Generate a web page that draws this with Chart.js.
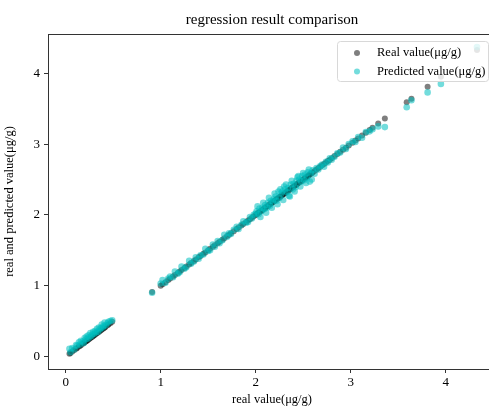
<!DOCTYPE html>
<html>
<head>
<meta charset="utf-8">
<script src="https://cdn.jsdelivr.net/npm/chart.js@4/dist/chart.umd.min.js"></script>
<style>
  html, body { margin: 0; padding: 0; background: #fff; overflow: hidden; }
  #wrap { width: 500px; height: 408px; }
</style>
</head>
<body>
<div id="wrap"><canvas id="chart"></canvas></div>
<script>
const titleText = 'regression result comparison';
const xTicks = [0, 1, 2, 3, 4];
const yTicks = [0, 1, 2, 3, 4];

// measured values (x of both series, y of the "real" series)
const realValues = [
  0.04, 0.05, 0.07, 0.09, 0.11, 0.12, 0.14, 0.15, 0.16, 0.18, 0.19, 0.2, 0.21, 0.22, 0.23, 0.24, 0.25, 0.26, 0.27,
  0.28, 0.29, 0.3, 0.31, 0.32, 0.33, 0.34, 0.35, 0.36, 0.37, 0.38, 0.39, 0.4, 0.41, 0.42, 0.44, 0.45, 0.47, 0.49,
  0.91,
  1.0, 1.02, 1.05, 1.08, 1.1, 1.13, 1.15, 1.18, 1.2, 1.22, 1.25, 1.27, 1.3, 1.32, 1.35, 1.37, 1.4, 1.42, 1.45, 1.47,
  1.5, 1.52, 1.55, 1.57, 1.6, 1.62, 1.65, 1.67, 1.7, 1.72, 1.74, 1.77, 1.8, 1.82, 1.85, 1.87, 1.9, 1.92, 1.94, 1.96, 1.98,
  2.0, 2.01, 2.03, 2.04, 2.06, 2.07, 2.09, 2.1, 2.12, 2.13, 2.15, 2.16, 2.18, 2.19, 2.21, 2.22, 2.24, 2.25, 2.27, 2.28,
  2.3, 2.31, 2.33, 2.34, 2.36, 2.37, 2.39, 2.4, 2.42, 2.43, 2.45, 2.46, 2.48, 2.49, 2.51, 2.52, 2.54, 2.55, 2.57, 2.58,
  2.6, 2.62, 2.64, 2.66, 2.68, 2.7, 2.72, 2.74, 2.76, 2.78, 2.8, 2.83, 2.86, 2.89,
  2.02, 2.05, 2.08, 2.11, 2.14, 2.17, 2.2, 2.23, 2.26, 2.29, 2.32, 2.35, 2.38, 2.41, 2.44, 2.47, 2.5, 2.53, 2.56, 2.59,
  2.92, 2.95, 2.98, 3.02, 3.05, 3.08, 3.12, 3.16, 3.2, 3.23, 3.29, 3.36,
  3.59, 3.64, 3.81, 3.95, 4.33
];

// model output, same order as realValues
const predictedValues = [
  0.11, 0.06, 0.12, 0.1, 0.16, 0.15, 0.2, 0.17, 0.22, 0.21, 0.19, 0.26, 0.24, 0.28, 0.25, 0.3, 0.27, 0.33, 0.29,
  0.31, 0.35, 0.32, 0.36, 0.34, 0.39, 0.35, 0.41, 0.38, 0.4, 0.45, 0.41, 0.43, 0.48, 0.44, 0.47, 0.49, 0.5, 0.51,
  0.9,
  1.03, 1.08, 1.04, 1.1, 1.13, 1.12, 1.2, 1.17, 1.19, 1.27, 1.24, 1.26, 1.35, 1.31, 1.34, 1.4, 1.38, 1.43, 1.44, 1.52,
  1.49, 1.5, 1.58, 1.55, 1.63, 1.6, 1.64, 1.72, 1.69, 1.74, 1.73, 1.79, 1.83, 1.8, 1.86, 1.91, 1.89, 1.9, 1.97, 1.95, 2.0,
  2.02, 2.05, 2.01, 2.09, 2.05, 2.1, 2.08, 2.14, 2.1, 2.17, 2.13, 2.2, 2.19, 2.22, 2.26, 2.2, 2.33, 2.24, 2.3, 2.33,
  2.4, 2.36, 2.32, 2.38, 2.26, 2.43, 2.36, 2.44, 2.39, 2.48, 2.55, 2.5, 2.47, 2.55, 2.49, 2.57, 2.52, 2.6, 2.47, 2.59,
  2.63, 2.58, 2.66, 2.64, 2.69, 2.71, 2.68, 2.75, 2.74, 2.8, 2.78, 2.82, 2.87, 2.88,
  2.12, 1.97, 2.17, 2.03, 2.24, 2.1, 2.3, 2.15, 2.36, 2.21, 2.43, 2.27, 2.48, 2.33, 2.53, 2.4, 2.59, 2.45, 2.64, 2.5,
  2.95, 2.93, 3.0, 3.04, 3.03, 3.1, 3.09, 3.17, 3.18, 3.21, 3.25, 3.24,
  3.52, 3.62, 3.73, 3.85, 4.37
];

const serif = "'Liberation Serif', 'Times New Roman', serif";

realPoints = realValues.map(v => ({x: v, y: v}));
predPoints = realValues.map((v, i) => ({x: v, y: predictedValues[i]}));

// title centred over the axes, plus the top/right spines
const framePlugin = {
    id: 'frame',
    afterDraw: (chart) => {
        let ctx = chart.ctx;
        let a = chart.chartArea;
        ctx.save();
        ctx.strokeStyle = '#333';
        ctx.lineWidth = 1;
        ctx.beginPath();
        ctx.moveTo(a.left, a.top + 0.5);
        ctx.lineTo(a.right, a.top + 0.5);
        ctx.lineTo(a.right, a.bottom);
        ctx.stroke();
        ctx.fillStyle = '#000';
        ctx.font = "15px " + serif;
        ctx.textAlign = 'center';
        ctx.textBaseline = 'middle';
        ctx.fillText(titleText, (a.left + a.right) / 2, 20);
        ctx.restore();
    }
};

// matplotlib style legend box in the upper right corner
const legendPlugin = {
    id: 'boxLegend',
    afterDatasetsDraw: (chart) => {
        let ctx = chart.ctx;
        let a = chart.chartArea;
        let right = a.right - 8;
        let left = 337;
        let top = a.top + 7;
        ctx.save();
        ctx.fillStyle = 'rgba(255,255,255,0.8)';
        ctx.strokeStyle = '#d8d8d8';
        ctx.lineWidth = 1;
        ctx.beginPath();
        ctx.roundRect(left + 0.5, top + 0.5, right - left, 40, 3);
        ctx.fill();
        ctx.stroke();
        ctx.font = "12.5px " + serif;
        ctx.textBaseline = 'middle';
        chart.data.datasets.forEach((ds, i) => {
            let y = top + 12 + i * 18.5;
            ctx.fillStyle = ds.backgroundColor;
            ctx.beginPath();
            ctx.arc(left + 20, y, 3, 0, Math.PI * 2);
            ctx.fill();
            ctx.fillStyle = '#000';
            ctx.fillText(ds.label, left + 40, y);
        });
        ctx.restore();
    }
};

new Chart(document.getElementById('chart').getContext('2d'), {
    type: 'scatter',
    data: {
        datasets: [
            {
                label: 'Real value(μg/g)',
                data: realPoints,
                backgroundColor: 'rgba(0,0,0,0.5)',
                borderWidth: 0,
                pointRadius: 3,
                order: 1
            },
            {
                label: 'Predicted value(μg/g)',
                data: predPoints,
                backgroundColor: 'rgba(0,191,191,0.55)',
                borderWidth: 0,
                pointRadius: 3.3,
                order: 0
            }
        ]
    },
    options: {
        animation: false,
        responsive: true,
        maintainAspectRatio: false,
        layout: {
            padding: {top: 34, right: 4, left: 0, bottom: 0}
        },
        plugins: {
            legend: {display: false},
            tooltip: {enabled: false},
            title: {display: false}
        },
        scales: {
            x: {
                type: 'linear',
                min: -0.186,
                max: 4.53,
                afterBuildTicks: axis => { axis.ticks = xTicks.map(v => ({value: v})); },
                afterFit: s => { s.height = 39; },
                ticks: {
                    color: '#000',
                    padding: 2,
                    font: {family: serif, size: 13}
                },
                grid: {
                    drawOnChartArea: false,
                    drawTicks: true,
                    tickLength: 4,
                    color: '#333'
                },
                border: {color: '#333', width: 1},
                title: {
                    display: true,
                    text: 'real value(μg/g)',
                    color: '#000',
                    font: {family: serif, size: 12.5},
                    padding: {top: 0, bottom: 1}
                }
            },
            y: {
                type: 'linear',
                min: -0.177,
                max: 4.555,
                afterBuildTicks: axis => { axis.ticks = yTicks.map(v => ({value: v})); },
                afterFit: s => { s.width = 48; },
                ticks: {
                    color: '#000',
                    padding: 4,
                    font: {family: serif, size: 13}
                },
                grid: {
                    drawOnChartArea: false,
                    drawTicks: true,
                    tickLength: 4,
                    color: '#333'
                },
                border: {color: '#333', width: 1},
                title: {
                    display: true,
                    text: 'real and predicted value(μg/g)',
                    color: '#000',
                    font: {family: serif, size: 12.5},
                    padding: {top: 2, bottom: 0}
                }
            }
        }
    },
    plugins: [framePlugin, legendPlugin]
});
</script>
</body>
</html>
